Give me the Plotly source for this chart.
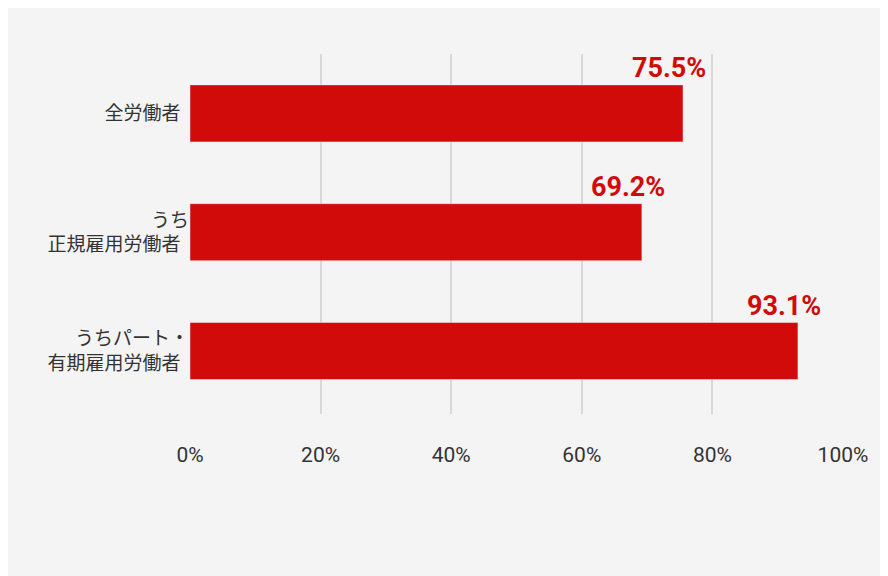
import plotly.graph_objects as go

categories = ["全労働者", "うち<br>正規雇用労働者", "うちパート・<br>有期雇用労働者"]
values = [75.5, 69.2, 93.1]
labels = ["75.5%", "69.2%", "93.1%"]
tick_vals = [0, 20, 40, 60, 80, 100]
tick_text = ["0%", "20%", "40%", "60%", "80%", "100%"]

font = "Noto Sans CJK JP"
fig = go.Figure(go.Bar(x=values, y=categories, orientation="h",
                       marker_color="#d10a0a", width=0.48))
for v, c, t in zip(values, categories, labels):
    fig.add_annotation(x=v, y=c, text="<b>" + t + "</b>", showarrow=False,
                       xanchor="center", yanchor="bottom", yshift=27, xshift=-14,
                       font=dict(size=27, color="#d10a0a", family="Roboto"))
fig.update_layout(
    width=888, height=576, paper_bgcolor="#f4f4f4", plot_bgcolor="#f4f4f4",
    margin=dict(l=182, r=53, t=46, b=170), showlegend=False,
    font=dict(family=font, size=19, color="#333"),
    xaxis=dict(range=[0, 100], tickvals=tick_vals, ticktext=tick_text,
               gridcolor="#d8d8d8", gridwidth=1.5, zeroline=False,
               ticks="outside", ticklen=22, tickcolor="rgba(0,0,0,0)",
               tickfont=dict(size=21, color="#333", family="Roboto")),
    yaxis=dict(autorange="reversed", ticksuffix="  ", showgrid=False,
               tickfont=dict(size=19, color="#333")),
)
fig.write_html("out.html")
